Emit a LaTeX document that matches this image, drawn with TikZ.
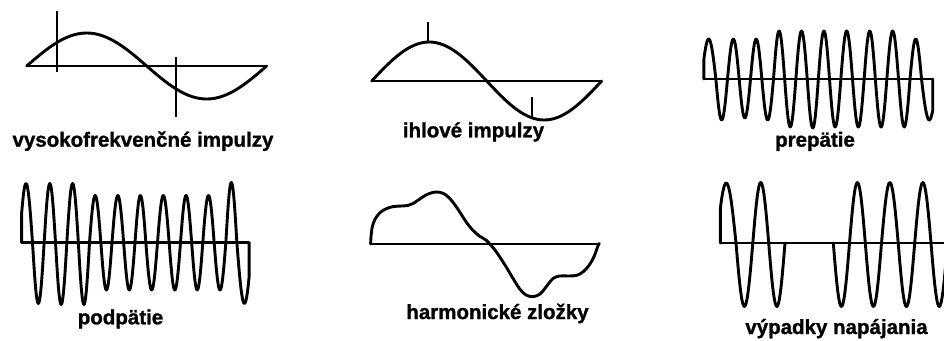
\documentclass[tikz,border=0pt]{standalone}
\usepackage{fontspec}
\setmainfont[BoldFeatures={FakeBold=1.2}]{Liberation Sans}
\tikzset{
  wave/.style={line width=2.9pt, line join=round, line cap=round},
  axisline/.style={line width=2.1pt},
  spike/.style={line width=2.3pt},
  lbl/.style={anchor=base, inner sep=0pt, font=\fontsize{20.5}{24}\selectfont\bfseries},
}
\begin{document}
\begin{tikzpicture}[x=1pt,y=-1pt]
\clip (0,0) rectangle (944,340);
\fill[white] (0,0) rectangle (944,340);

% ---- panel 1: vysokofrekvencne impulzy
\draw[axisline] (26.7,66) -- (266.7,66);
\draw[wave] plot[domain=0:360, samples=72] ({26.7+0.66667*\x},{66-33*sin(\x)});
\draw[spike] (57.3,11) -- (57.3,72);
\draw[spike] (176,56.7) -- (176,117.3);
\node[lbl] (l1) at (143,146.7) {vysokofrekvenčné impulzy};

% ---- panel 2: ihlove impulzy
\draw[axisline] (371.7,81) -- (601.7,81);
\draw[wave] plot[domain=0:360, samples=72] ({371.7+0.63889*\x},{81-39*sin(\x)});
\draw[spike] (427.7,21.7) -- (427.7,42);
\draw[spike] (532.3,97.3) -- (532.3,117);
\node[lbl] (l2) at (473.5,137.3) {ihlové impulzy};

% ---- panel 3: prepatie
\draw[axisline] (703.9,79) -- (932.7,79);
\draw[wave] (703.9,79)
  \foreach \a/\b/\c/\p/\q in {701.5/715.85/40/30/180, 715.85/727.5/-41/0/180,
    727.5/739.15/40/0/180, 739.15/750.5/-39/0/180, 750.5/761.85/40/0/180,
    761.85/773.5/-41/0/180, 773.5/784.65/48/0/180, 784.65/795.85/-48/0/180,
    795.85/807.2/48/0/180, 807.2/818.35/-49/0/180, 818.35/829.5/48/0/180,
    829.5/840.85/-48/0/180, 840.85/852.5/48/0/180, 852.5/864.15/-48/0/180,
    864.15/875.35/48/0/180, 875.35/886.85/-48/0/180, 886.85/898.5/48/0/180,
    898.5/910/-48/0/180, 910/921.5/40/0/180, 921.5/937/-41/0/130}
  { -- plot[domain=\p:\q, samples=19] ({\a+(\b-\a)*\x/180},{79-(\c)*sin(\x)}) }
  -- (932.7,79);
\node[lbl] (l3) at (815,146.7) {prepätie};

% ---- panel 4: podpatie
\draw[axisline] (21.7,242.5) -- (249.05,242.5);
\draw[wave] (21.67,242.5)
  \foreach \a/\b/\c/\p/\q in {19.5/32.5/59/30/180, 32.5/44.15/-61/0/180,
    44.15/55.5/59/0/180, 55.5/66.85/-62/0/180, 66.85/78.35/59/0/180,
    78.35/89.5/-62/0/180, 89.5/100.85/47/0/180, 100.85/112/-47.5/0/180,
    112/123.65/47/0/180, 123.65/135/-47.5/0/180, 135/145.85/47/0/180,
    145.85/157.5/-47.5/0/180, 157.5/169.15/47/0/180, 169.15/180.5/-47.5/0/180,
    180.5/191.65/47/0/180, 191.65/202.8/-47.5/0/180, 202.8/214.15/47/0/180,
    214.15/225.85/-47.5/0/180, 225.85/236.85/60/0/180, 236.85/252/-61/0/145}
  { -- plot[domain=\p:\q, samples=19] ({\a+(\b-\a)*\x/180},{242.5-(\c)*sin(\x)}) }
  -- (249.05,242.5);
\node[lbl] (l4) at (120.5,324.3) {podpätie};

% ---- panel 5: harmonicke zlozky
\begin{scope}[shift={(320,170)}, x=0.3333pt, y=-0.3333pt]
\draw[axisline] (152,222) -- (838,222);
\draw[wave] plot[smooth, tension=0.6] coordinates {
  (152,222) (153,200) (157,170) (165,148) (178,130) (195,118) (218,110)
  (245,108) (265,106) (280,100) (298,88) (318,75) (340,67) (360,67)
  (378,75) (395,92) (410,112) (425,135) (440,158) (458,180) (478,198)
  (498,210) (512,225) (525,240) (540,262) (555,285) (570,310) (585,335)
  (600,358) (618,375) (640,380) (660,372) (675,355) (688,338) (700,325)
  (718,318) (745,318) (770,316) (790,305) (808,285) (822,260) (835,225) (838,222)};
\end{scope}
\node[lbl] (l5) at (497.5,319) {harmonické zložky};

% ---- panel 6: vypadky napajania
\draw[axisline] (720.3,243) -- (950,243);
\draw[wave] (720.3,243)
  \foreach \a/\b/\c/\p/\q in {716.5/736/60/35/180, 736/752.8/-63.5/0/180,
    752.8/768.7/60.5/0/180, 768.7/785/-63.5/0/180}
  { -- plot[domain=\p:\q, samples=19] ({\a+(\b-\a)*\x/180},{243-(\c)*sin(\x)}) };
\draw[wave] (833.3,243)
  \foreach \a/\b/\c/\p/\q in {833.3/849.5/-63.5/0/180, 849.5/865.3/60.5/0/180,
    865.3/881.5/-63.5/0/180, 881.5/898.2/60.5/0/180, 898.2/914.7/-63.5/0/180,
    914.7/931/60.5/0/180, 931/947.5/-63.5/0/180, 947.5/964/60.5/0/90}
  { -- plot[domain=\p:\q, samples=19] ({\a+(\b-\a)*\x/180},{243-(\c)*sin(\x)}) };
\node[lbl] (l6) at (836.5,334) {výpadky napájania};
\end{tikzpicture}
\end{document}
